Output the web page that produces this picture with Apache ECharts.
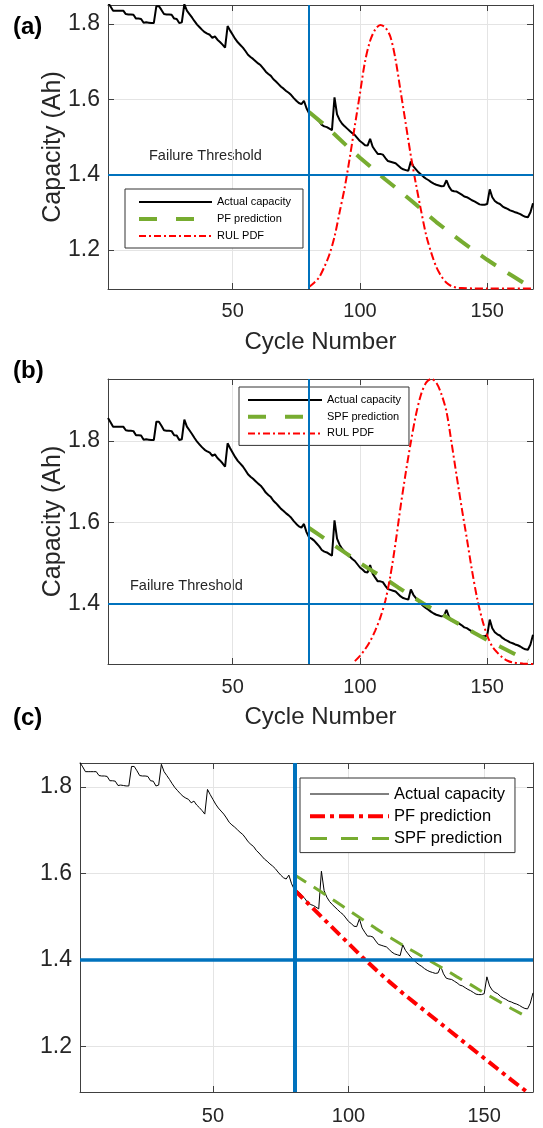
<!DOCTYPE html>
<html>
<head>
<meta charset="utf-8">
<script src="https://cdn.jsdelivr.net/npm/echarts@6/dist/echarts.min.js"></script>
<style>
html,body{margin:0;padding:0;background:#ffffff;}
#chart{width:543px;height:1128px;}
</style>
</head>
<body>
<div id="chart"></div>
<script>
// ---------- data ----------
const predictionStart = 80;      // cycle where prediction starts
const failureThreshold = 1.4;    // Ah

// Actual capacity, cycles 1..168
const capacity = [
  1.856,1.846,1.835,1.835,1.835,1.835,1.835,1.826,1.825,1.825,
  1.824,1.814,1.814,1.813,1.803,1.804,1.803,1.802,1.802,1.847,
  1.847,1.837,1.826,1.825,1.825,1.824,1.814,1.813,1.802,1.804,
  1.852,1.835,1.826,1.817,1.807,1.798,1.791,1.784,1.778,1.774,
  1.771,1.763,1.767,1.758,1.752,1.745,1.737,1.794,1.782,1.771,
  1.760,1.751,1.744,1.737,1.728,1.718,1.712,1.707,1.701,1.695,
  1.690,1.682,1.673,1.667,1.662,1.653,1.647,1.640,1.633,1.628,
  1.622,1.617,1.611,1.603,1.596,1.590,1.587,1.596,1.576,1.563,
  1.560,1.555,1.548,1.541,1.532,1.528,1.526,1.522,1.518,1.605,
  1.560,1.545,1.535,1.528,1.522,1.516,1.510,1.505,1.497,1.489,
  1.484,1.478,1.477,1.495,1.474,1.464,1.455,1.455,1.453,1.444,
  1.436,1.434,1.432,1.430,1.424,1.418,1.414,1.412,1.410,1.435,
  1.422,1.414,1.406,1.400,1.394,1.389,1.385,1.380,1.376,1.373,
  1.371,1.369,1.370,1.385,1.368,1.358,1.356,1.355,1.351,1.347,
  1.342,1.340,1.336,1.332,1.329,1.325,1.321,1.320,1.320,1.322,
  1.361,1.340,1.330,1.325,1.322,1.316,1.312,1.309,1.305,1.303,
  1.300,1.298,1.295,1.291,1.288,1.287,1.300,1.324
];

// Panel (a): PF prediction
const pfCyclesA = [80,85,90,95,100,105,110,115,120,125,130,135,140,145,150,155,160,165,168];
const pfValuesA = [1.566,1.538,1.507,1.475,1.445,1.416,1.387,1.360,1.332,1.303,1.274,1.248,1.222,1.198,1.174,1.152,1.131,1.110,1.098];
// Panel (a): RUL PDF (drawn in capacity units)
const pdfCyclesA = [80,82,84,86,88,90,92,94,96,98,100,102,104,106,108,110,112,114,116,118,120,122,124,126,128,130,132,134,136,138,140,145,150,160,168];
const pdfValuesA = [1.102,1.113,1.128,1.155,1.188,1.235,1.300,1.365,1.445,1.530,1.615,1.700,1.755,1.785,1.797,1.790,1.765,1.705,1.620,1.535,1.450,1.375,1.305,1.240,1.193,1.155,1.130,1.113,1.104,1.100,1.099,1.098,1.098,1.098,1.098];

// Panel (b): SPF prediction
const spfCyclesB = [80,85,90,95,100,105,110,115,120,125,130,135,140,145,150,155,160,165,166];
const spfValuesB = [1.586,1.565,1.543,1.522,1.500,1.480,1.461,1.440,1.420,1.400,1.382,1.364,1.346,1.328,1.311,1.295,1.279,1.263,1.260];
// Panel (b): RUL PDF
const pdfCyclesB = [98,100,102,104,106,108,110,112,114,116,118,120,122,124,126,128,130,132,134,136,138,140,142,144,146,148,150,152,154,156,158,160,164,168];
const pdfValuesB = [1.259,1.272,1.288,1.308,1.334,1.366,1.408,1.470,1.550,1.640,1.722,1.797,1.864,1.914,1.943,1.952,1.943,1.915,1.872,1.795,1.714,1.635,1.560,1.483,1.415,1.362,1.322,1.295,1.280,1.268,1.260,1.256,1.253,1.252];

// Panel (c): PF and SPF predictions
const predCyclesC = [80,85,90,95,100,105,110,115,120,125,130,135,140,145,150,155,160,165,166];
const pfValuesC  = [1.562,1.531,1.500,1.469,1.438,1.407,1.378,1.350,1.323,1.298,1.273,1.248,1.223,1.198,1.173,1.148,1.123,1.099,1.094];
const spfValuesC = [1.597,1.577,1.557,1.536,1.515,1.494,1.473,1.453,1.434,1.416,1.398,1.380,1.361,1.343,1.324,1.306,1.288,1.271,1.268];

const xRange = [1, 168];
const yRanges = [[1.0965, 1.85], [1.252, 1.952], [1.095, 1.855]];

// ---------- styling ----------
const FONT = "'Liberation Sans', Arial, Helvetica, sans-serif";
const AXIS = '#404040';
const TXT = '#262626';
const BLUE = '#0072BD';
const GREEN = '#77AC30';
const RED = '#FF0000';

const pairs = (xs, ys) => xs.map((x, i) => [x, ys[i]]);
const capPairs = capacity.map((v, i) => [i + 1, v]);

const grids = [
  {left: 108, top: 5, width: 425, height: 284},
  {left: 108, top: 379, width: 425, height: 285},
  {left: 80, top: 763, width: 453, height: 329}
];

function xAxesFor(gi, name, labelMargin) {
  const common = {
    type: 'value', gridIndex: gi, min: xRange[0], max: xRange[1], splitNumber: 3,
    axisLine: {show: true, onZero: false, lineStyle: {color: AXIS, width: 1}},
    axisTick: {show: true, inside: true, length: 6, lineStyle: {color: AXIS}}
  };
  return [
    Object.assign({}, common, {
      position: 'bottom',
      axisLabel: {show: true, showMinLabel: false, showMaxLabel: false, color: TXT, fontSize: 20, fontFamily: FONT, margin: labelMargin},
      splitLine: {show: true, lineStyle: {color: '#e4e4e4', width: 1}},
      name: name || '', nameLocation: 'middle', nameGap: 41, nameMoveOverlap: false,
      nameTextStyle: {fontSize: 24, color: TXT, fontFamily: FONT}
    }),
    Object.assign({}, common, {position: 'top', axisLabel: {show: false}, splitLine: {show: false}})
  ];
}
function yAxesFor(gi, name) {
  const r = yRanges[gi];
  const common = {
    type: 'value', gridIndex: gi, min: r[0], max: r[1], splitNumber: 4,
    axisLine: {show: true, onZero: false, lineStyle: {color: AXIS, width: 1}},
    axisTick: {show: true, inside: true, length: 6, lineStyle: {color: AXIS}}
  };
  return [
    Object.assign({}, common, {
      position: 'left',
      axisLabel: {show: true, showMinLabel: false, showMaxLabel: false, color: TXT, fontSize: 23, fontFamily: FONT, margin: 8,
        formatter: v => v.toFixed(1)},
      splitLine: {show: true, lineStyle: {color: '#e4e4e4', width: 1}},
      name: name || '', nameLocation: 'middle', nameGap: 42, nameMoveOverlap: false,
      nameTextStyle: {fontSize: 25, color: TXT, fontFamily: FONT}
    }),
    Object.assign({}, common, {position: 'right', axisLabel: {show: false}, splitLine: {show: false}})
  ];
}

const xAxis = [].concat(xAxesFor(0, 'Cycle Number', 12), xAxesFor(1, 'Cycle Number', 13), xAxesFor(2, '', 14));
const yAxis = [].concat(yAxesFor(0, 'Capacity (Ah)'), yAxesFor(1, 'Capacity (Ah)'), yAxesFor(2, ''));

function capSeries(gi, width, blueW, blueH) {
  return {
    type: 'line', name: 'Actual capacity', xAxisIndex: gi * 2, yAxisIndex: gi * 2,
    data: capPairs, symbol: 'none', animation: false, z: 3,
    lineStyle: {color: '#000', width: width},
    markLine: {
      silent: true, symbol: 'none', animation: false, label: {show: false},
      data: [
        {xAxis: predictionStart, lineStyle: {color: BLUE, width: blueW, type: 'solid'}},
        {yAxis: failureThreshold, lineStyle: {color: BLUE, width: blueH, type: 'solid'}}
      ]
    }
  };
}
function lineSeries(gi, name, data, color, width, dash, smooth) {
  return {
    type: 'line', name: name, xAxisIndex: gi * 2, yAxisIndex: gi * 2,
    data: data, symbol: 'none', animation: false, z: 4, smooth: smooth || false,
    lineStyle: {color: color, width: width, type: dash, cap: 'butt'}
  };
}

const series = [
  capSeries(0, 2, 2, 2),
  lineSeries(0, 'PF prediction', pairs(pfCyclesA, pfValuesA), GREEN, 4, [18, 14]),
  lineSeries(0, 'RUL PDF', pairs(pdfCyclesA, pdfValuesA), RED, 2, [8, 3, 2, 3], 0.3),

  capSeries(1, 2, 2, 2),
  lineSeries(1, 'SPF prediction', pairs(spfCyclesB, spfValuesB), GREEN, 4, [18, 14]),
  lineSeries(1, 'RUL PDF', pairs(pdfCyclesB, pdfValuesB), RED, 2, [8, 3, 2, 3], 0.3),

  capSeries(2, 1, 4, 3.5),
  lineSeries(2, 'PF prediction', pairs(predCyclesC, pfValuesC), RED, 4, [12, 5, 4, 5]),
  lineSeries(2, 'SPF prediction', pairs(predCyclesC, spfValuesC), GREEN, 3, [14, 9])
];

function legendBox(left, top, items, opts) {
  return Object.assign({
    orient: 'vertical', left: left, top: top, selectedMode: false,
    backgroundColor: '#ffffff', borderColor: '#333333', borderWidth: 1, borderRadius: 0,
    data: items.map(it => ({
      name: it[0],
      lineStyle: {color: it[1], width: it[2], type: it[3], cap: 'butt', opacity: 1},
      itemStyle: {color: 'rgba(0,0,0,0)', borderWidth: 0, opacity: 0}
    }))
  }, opts);
}

const legend = [
  legendBox(125, 189, [
    ['Actual capacity', '#000', 2, 'solid'],
    ['PF prediction', GREEN, 4, [18, 19]],
    ['RUL PDF', RED, 2, [7, 3, 2, 3]]
  ], {itemWidth: 73, itemHeight: 14, itemGap: 3, padding: [6, 12, 5, 12],
      textStyle: {fontSize: 11, lineHeight: 14, color: '#000', fontFamily: FONT}}),
  legendBox(239, 387, [
    ['Actual capacity', '#000', 2, 'solid'],
    ['SPF prediction', GREEN, 4, [18, 19]],
    ['RUL PDF', RED, 2, [7, 3, 2, 3]]
  ], {itemWidth: 74, itemHeight: 14, itemGap: 2.7, padding: [6, 8, 5, 7],
      textStyle: {fontSize: 11, lineHeight: 14, color: '#000', fontFamily: FONT}}),
  legendBox(300, 778, [
    ['Actual capacity', '#000', 1, 'solid'],
    ['PF prediction', RED, 4, [15, 5, 4, 5]],
    ['SPF prediction', GREEN, 3, [17, 14]]
  ], {itemWidth: 79, itemHeight: 14, itemGap: 4.3, padding: [7, 10, 5, 8],
      textStyle: {fontSize: 16.5, lineHeight: 18, color: '#000', fontFamily: FONT}})
];

const graphic = [
  {type: 'text', x: 13, y: 27, silent: true, style: {text: '(a)', font: 'bold 24px ' + FONT, fill: '#000', verticalAlign: 'middle'}},
  {type: 'text', x: 13, y: 371, silent: true, style: {text: '(b)', font: 'bold 24px ' + FONT, fill: '#000', verticalAlign: 'middle'}},
  {type: 'text', x: 13, y: 718, silent: true, style: {text: '(c)', font: 'bold 24px ' + FONT, fill: '#000', verticalAlign: 'middle'}},
  {type: 'text', x: 149, y: 156, silent: true, style: {text: 'Failure Threshold', font: '14.5px ' + FONT, fill: TXT, verticalAlign: 'middle'}},
  {type: 'text', x: 130, y: 586, silent: true, style: {text: 'Failure Threshold', font: '14.5px ' + FONT, fill: TXT, verticalAlign: 'middle'}}
];

const chart = echarts.init(document.getElementById('chart'), null, {renderer: 'canvas'});
chart.setOption({
  animation: false,
  backgroundColor: '#ffffff',
  grid: grids,
  xAxis: xAxis,
  yAxis: yAxis,
  legend: legend,
  graphic: graphic,
  series: series
});
</script>
</body>
</html>
